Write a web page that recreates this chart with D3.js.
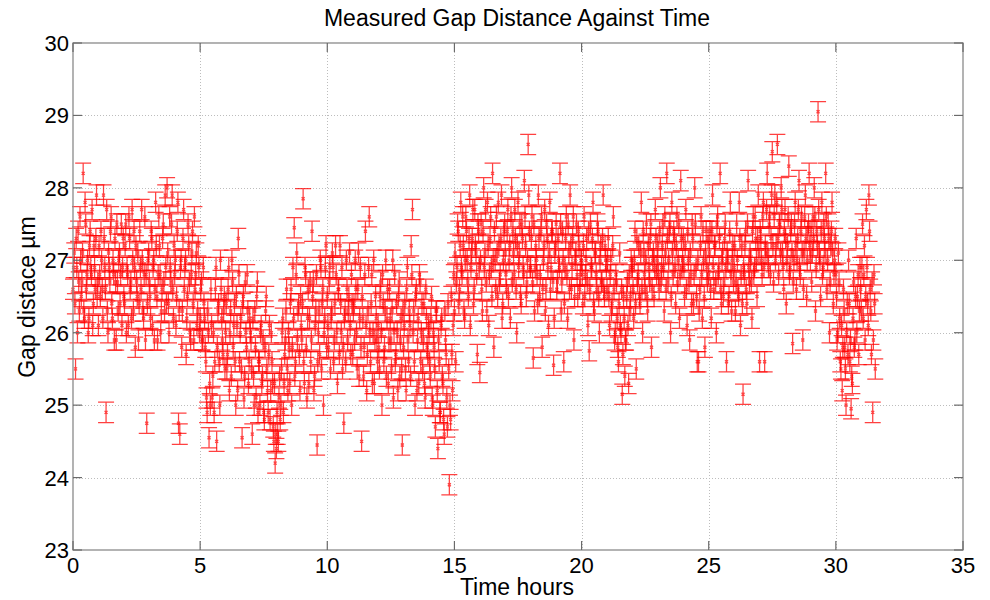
<!DOCTYPE html>
<html><head><meta charset="utf-8">
<script src="https://cdn.jsdelivr.net/npm/d3@7/dist/d3.min.js"></script>
<style>body{margin:0;background:#fff}svg{display:block}</style>
</head><body><svg id="chart" width="990" height="600"></svg>
<script>
// ---------------- data ----------------
const chartTitle = "Measured Gap Distance Against Time";
const xLabel = "Time hours";
const yLabel = "Gap distace µm";
const xTicks = [0, 5, 10, 15, 20, 25, 30, 35];
const yTicks = [23, 24, 25, 26, 27, 28, 29, 30];
const xDomain = [0, 35];
const yDomain = [23, 30];
const sampleStepHours = 0.05;   // readings inside each hour row are 0.05 h apart
const offsetB = 0.025;          // second set of readings sits half a step later
const gapError = 0.14;          // +/- error (µm) on every reading
// gap readings (µm), one row per hour starting at hour 0 (t = h + i*0.05)
const gapByHourA = [
 [26.6,27.1,25.5,26.9,27.4,26.3,27.0,26.7,28.2,26.2,27.5,26.8,26.0,27.2,26.9,27.7,26.4,26.9,27.3,26.5],
 [26.1,26.8,27.4,26.6,27.9,26.9,24.9,26.3,27.1,26.7,27.6,26.2,26.8,27.3,25.9,26.7,27.0,26.4,27.5,26.9],
 [26.5,27.2,26.0,26.8,27.6,26.6,26.2,27.0,27.4,25.8,26.7,27.1,26.4,26.9,27.7,26.3,26.8,25.9,24.75,27.0],
 [26.7,26.2,27.3,26.9,25.9,27.8,26.5,26.8,27.2,26.0,26.6,27.5,26.3,26.9,28.0,26.4,27.6,26.7,27.9,26.2],
 [26.8,26.1,27.4,24.75,24.6,27.0,26.3,27.7,26.9,25.7,26.5,27.2,26.0,26.8,27.4,25.9,26.6,27.1,26.3,26.9],
 [26.2,26.7,25.9,26.4,25.8,25.1,26.3,24.55,25.0,26.1,25.4,24.9,26.6,24.5,26.3,25.6,27.0,26.2,25.7,26.5],
 [26.0,25.5,26.6,25.2,26.3,27.0,25.8,26.4,25.0,26.1,27.3,25.6,26.2,24.55,26.5,25.4,26.0,26.8,25.3,26.2],
 [25.9,24.6,25.4,26.3,25.1,26.7,25.6,25.0,26.1,25.4,24.9,25.8,26.5,25.2,25.7,24.8,26.0,25.3,24.5,24.2],
 [24.4,24.6,25.1,24.8,25.5,26.2,25.3,25.9,26.6,25.2,25.8,26.4,25.0,26.9,27.45,25.6,27.1,26.3,25.7,26.5],
 [25.9,27.85,25.3,26.8,25.1,26.6,26.2,25.6,27.4,26.7,25.4,26.3,24.45,26.0,25.7,26.9,26.4,25.0,26.2,27.2],
 [26.5,25.8,26.9,26.2,27.1,25.6,26.4,26.8,25.3,26.6,27.2,26.0,25.5,24.75,26.3,27.0,25.9,26.5,26.1,26.8],
 [25.7,26.4,27.0,26.0,26.6,25.4,26.9,24.5,26.2,25.8,27.4,25.2,26.3,27.6,25.6,26.8,26.0,25.3,26.5,25.9],
 [26.1,25.5,26.7,25.0,26.4,25.8,27.0,26.2,25.3,26.6,25.9,26.3,25.1,26.8,25.7,26.0,26.5,25.4,26.2,24.45],
 [25.8,26.4,25.2,26.9,25.6,26.1,27.2,27.7,26.3,25.0,26.6,25.9,25.3,26.7,26.0,25.5,26.4,25.1,26.2,25.7],
 [26.0,25.4,26.5,25.0,25.8,24.7,26.3,24.4,25.6,24.9,26.2,25.3,24.6,25.9,25.1,26.4,23.9,24.8,25.7,26.1],
 [26.3,25.6,26.9,27.4,26.6,27.8,26.8,27.2,26.2,27.6,27.0,26.5,27.9,26.9,27.3,26.4,27.7,27.1,25.7,27.4],
 [25.45,27.5,26.3,28.0,27.1,26.7,27.8,26.1,27.3,26.9,28.2,25.8,27.0,27.6,26.5,27.2,26.8,27.9,26.4,27.4],
 [27.1,26.6,27.7,27.0,26.2,28.0,27.4,26.8,27.3,26.0,27.8,27.1,26.5,27.5,26.9,28.1,27.2,26.7,28.6,27.4],
 [26.9,27.6,25.65,26.3,27.2,26.8,27.9,26.5,27.4,25.8,27.0,27.7,26.6,27.3,26.1,27.8,26.9,27.4,25.55,27.1],
 [27.5,26.7,27.0,28.2,26.3,27.4,25.6,26.9,27.6,26.2,27.1,27.9,26.6,27.3,25.9,27.0,27.5,26.5,27.2,26.8],
 [27.0,26.4,27.6,26.8,27.3,26.1,25.75,27.5,26.9,27.8,26.3,27.1,26.6,27.4,26.0,27.2,26.7,27.9,26.5,27.0],
 [26.6,27.3,26.1,27.0,26.4,27.6,25.9,26.8,26.2,25.6,27.1,26.0,25.15,26.5,25.4,25.9,26.7,25.3,26.3,27.0],
 [26.9,26.2,27.4,25.5,26.7,27.2,26.4,27.8,26.0,27.1,26.6,27.5,26.3,26.9,27.3,25.8,27.0,26.5,27.7,26.8],
 [27.2,26.6,28.0,26.9,27.5,26.3,27.1,28.2,26.7,27.4,26.0,27.8,26.8,27.3,26.4,27.6,27.0,26.2,28.1,26.9],
 [27.3,26.5,27.7,26.1,27.0,25.9,26.8,27.5,26.4,28.0,26.9,25.6,25.6,26.6,27.6,26.2,27.0,25.8,27.4,26.7],
 [26.8,27.4,26.2,27.9,26.6,27.2,26.0,27.6,26.9,28.2,26.4,27.1,26.7,27.5,25.6,27.0,26.5,27.8,26.3,27.2],
 [26.9,26.3,27.5,26.6,27.8,26.1,27.2,25.15,26.8,27.4,26.4,28.1,26.7,27.0,26.2,27.6,26.9,27.3,26.5,27.9],
 [25.6,27.3,26.8,27.8,25.6,27.1,28.2,26.9,27.6,27.3,28.5,26.7,27.9,27.2,28.6,26.8,27.5,28.0,27.1,26.6],
 [27.7,26.4,27.2,28.3,26.9,27.5,25.85,27.0,27.8,26.6,27.3,28.1,26.8,27.6,25.9,27.1,27.9,26.5,27.4,28.2],
 [27.0,26.7,27.6,28.0,26.3,27.4,29.05,27.1,26.5,27.8,26.9,27.3,28.2,26.6,27.5,26.0,27.2,27.8,26.4,27.0],
 [26.8,25.9,27.1,26.2,25.5,25.2,26.6,25.8,25.0,26.4,27.0,25.6,24.95,25.3,26.7,25.9,27.3,26.5,25.7,26.9],
 [26.3,27.5,26.8,25.9,27.7,26.4,27.9,26.6,25.7,24.9,26.8,25.5]
];
// second set of gap readings (µm), t = h + 0.025 + i*0.05
const gapByHourB = [
 [26.9,26.4,27.3,26.0,26.7,27.6,26.5,27.1,26.3,27.8,26.6,27.0,26.2,27.4,26.8,26.1,27.2,26.6,27.9,26.7],
 [27.2,26.5,27.0,26.2,27.3,26.6,27.7,26.0,26.9,27.4,26.4,27.0,25.9,26.7,27.5,26.3,27.1,26.8,26.1,27.3],
 [26.4,27.5,26.9,26.1,27.3,26.7,27.7,26.3,26.9,27.2,26.5,25.9,27.4,26.6,27.0,26.2,27.6,26.8,26.4,27.1],
 [26.5,27.4,26.1,27.0,26.6,27.2,25.9,27.6,26.8,26.3,27.3,26.7,27.9,26.4,27.1,26.0,26.9,27.5,26.6,27.2],
 [27.0,26.5,27.8,26.3,26.9,25.8,27.3,26.6,27.0,26.2,27.5,26.7,25.9,27.1,26.4,27.6,26.8,26.1,27.2,26.0],
 [26.6,25.9,26.9,26.2,25.6,24.9,26.0,25.3,26.6,25.1,26.0,25.6,26.9,25.8,26.4,25.0,26.6,25.9,26.3,25.5],
 [26.4,25.7,26.9,26.0,25.4,26.7,26.1,25.6,26.5,25.2,26.8,26.0,25.5,26.4,25.1,26.7,25.8,26.3,25.6,26.0],
 [25.5,26.2,25.0,25.8,26.5,24.9,25.6,26.0,25.3,25.9,24.8,26.3,25.5,24.9,26.1,25.2,25.6,24.7,25.3,24.6],
 [24.9,24.5,25.4,25.0,26.0,24.9,25.7,26.3,25.5,26.0,25.3,26.6,25.8,26.2,25.4,26.8,25.9,26.4,25.2,26.1],
 [26.4,25.6,26.9,25.8,26.2,25.3,26.7,25.9,26.5,25.2,26.1,26.8,25.6,26.3,27.0,25.5,26.6,26.0,26.9,25.8],
 [26.1,26.7,25.5,26.3,26.9,25.9,27.2,26.0,26.6,25.7,26.4,26.9,25.8,26.2,25.6,26.6,26.3,27.1,25.7,26.4],
 [26.3,25.9,26.6,25.5,27.1,26.2,25.8,26.5,25.4,26.8,26.1,25.7,26.9,26.0,26.4,25.3,27.0,25.9,26.2,25.6],
 [25.8,26.5,26.0,26.8,25.6,26.3,25.4,26.6,25.9,26.2,25.5,27.0,26.0,25.6,26.4,25.2,26.7,25.9,25.5,26.3],
 [26.1,25.5,26.6,25.9,26.3,25.4,26.8,26.0,25.6,26.5,25.2,26.2,26.8,25.6,26.4,25.9,25.3,26.6,25.8,26.1],
 [25.6,26.2,25.1,26.0,25.5,26.3,25.2,25.9,24.9,26.1,25.4,24.8,26.3,25.7,24.7,25.5,25.0,26.5,25.2,26.8],
 [27.1,26.7,27.5,26.4,27.2,26.9,27.6,26.3,27.0,27.4,26.7,27.3,26.1,27.1,27.7,26.6,27.2,26.8,27.5,26.9],
 [27.0,26.6,27.4,26.9,27.7,26.3,27.2,26.8,27.6,26.5,27.0,27.4,26.6,27.1,27.8,26.7,27.3,26.2,27.0,27.5],
 [26.8,27.4,26.5,27.2,27.6,26.7,27.1,27.7,26.6,27.2,26.9,27.5,26.4,27.3,26.8,27.6,26.5,27.0,27.9,26.9],
 [27.3,26.7,27.5,26.9,27.0,26.4,27.3,26.8,27.6,26.6,27.2,26.3,27.5,26.9,27.1,26.6,27.4,26.7,26.2,27.2],
 [26.6,27.3,26.9,27.5,26.7,27.0,26.4,27.3,26.8,27.5,26.6,27.2,26.9,27.6,26.5,27.1,26.8,27.4,26.6,27.0],
 [26.8,27.2,26.5,27.0,26.7,27.4,26.6,26.9,27.3,26.4,27.1,26.8,27.5,26.5,27.0,26.7,27.3,26.6,27.2,26.9],
 [27.0,26.5,26.8,26.3,27.2,26.6,26.0,26.7,25.8,26.4,26.1,26.6,25.7,26.2,25.9,26.5,26.1,26.8,26.5,26.9],
 [26.6,27.0,26.4,27.3,26.8,26.5,27.1,26.6,27.4,26.8,27.0,26.5,27.2,26.7,27.5,26.6,27.1,26.9,27.3,27.0],
 [26.8,27.4,26.7,27.2,26.9,27.6,26.6,27.3,27.0,27.5,26.5,27.1,27.4,26.9,27.2,26.7,27.5,26.8,27.3,27.0],
 [26.9,27.2,26.6,27.4,26.7,27.1,26.4,27.3,26.8,27.5,26.5,27.0,26.3,27.2,26.8,27.4,26.5,27.1,26.9,27.3],
 [27.1,26.6,27.4,26.9,27.2,26.7,27.5,26.8,27.3,26.6,27.0,26.5,27.3,26.9,27.1,26.4,27.4,26.8,27.0,26.7],
 [27.2,26.7,27.0,26.5,27.3,26.8,26.4,26.9,27.2,26.6,27.5,26.9,27.1,26.7,27.4,26.8,27.6,27.0,27.3,27.1],
 [27.4,27.0,27.6,26.9,27.2,27.7,27.1,27.5,26.8,27.9,27.2,27.6,27.0,27.8,27.3,27.5,27.1,27.7,26.9,27.4],
 [27.3,27.0,27.6,26.8,27.4,27.1,26.7,27.5,27.2,27.0,27.7,26.9,27.4,27.1,26.6,27.6,27.3,27.0,27.5,27.2],
 [27.4,27.1,27.3,27.6,26.9,27.2,27.7,27.0,27.4,26.8,27.5,27.1,27.6,27.0,27.3,26.7,27.4,27.1,26.8,27.3],
 [26.5,26.0,26.7,25.6,26.1,25.8,26.3,25.5,26.0,25.7,26.4,25.9,25.4,26.2,25.8,26.5,26.0,26.8,26.3,26.6],
 [26.9,26.2,27.2,26.5,26.9,26.1,27.4,26.3,26.7,25.9,26.4]
];

// ---------------- chart ----------------
const FONT = "'Liberation Sans', Arial, Helvetica, sans-serif";
const svg = d3.select("#chart");
const mLeft = 73, mRight = 963, mTop = 43, mBottom = 550;
const x = d3.scaleLinear().domain(xDomain).range([mLeft, mRight]);
const y = d3.scaleLinear().domain(yDomain).range([mBottom, mTop]);
const px = v => Math.round(v) + 0.5;

const points = [];
gapByHourA.forEach((row, h) => row.forEach((v, i) => points.push({t: h + i * sampleStepHours, v: v, e: gapError})));
gapByHourB.forEach((row, h) => row.forEach((v, i) => points.push({t: h + offsetB + i * sampleStepHours, v: v, e: gapError})));
points.sort((a, b) => a.t - b.t);

// grid
const grid = svg.append("g").attr("stroke", "#bdbdbd").attr("stroke-width", 1).attr("stroke-dasharray", "1,2");
grid.selectAll("line.gx").data(xTicks.slice(1, -1)).join("line")
  .attr("x1", d => px(x(d))).attr("x2", d => px(x(d)))
  .attr("y1", mTop).attr("y2", mBottom);
grid.selectAll("line.gy").data(yTicks.slice(1, -1)).join("line")
  .attr("y1", d => px(y(d))).attr("y2", d => px(y(d)))
  .attr("x1", mLeft).attr("x2", mRight);

// error bars
const capW = 8;
const eb = svg.append("g").attr("fill", "none").attr("stroke", "#ff0000").attr("stroke-width", 1.25);
eb.selectAll("path").data(points).join("path")
  .attr("stroke-opacity", 0.75)
  .attr("d", d => {
    const cx = x(d.t), y1 = y(d.v + d.e), y0 = y(d.v - d.e), cy = y(d.v);
    return `M${cx - capW},${y1}H${cx + capW}M${cx},${y1}V${y0}M${cx - capW},${y0}H${cx + capW}` +
           `M${cx - 1.5},${cy - 1.5}l3,3M${cx - 1.5},${cy + 1.5}l3,-3`;
  });

// axes box and ticks
const ax = svg.append("g");
ax.append("rect").attr("x", mLeft).attr("y", mTop).attr("width", mRight - mLeft).attr("height", mBottom - mTop)
  .attr("fill", "none").attr("stroke", "#8a8a8a").attr("stroke-width", 1.3);
const tl = 9;
const tk = ax.append("g").attr("stroke", "#6a6a6a").attr("stroke-width", 1.2);
xTicks.forEach(d => {
  tk.append("line").attr("x1", x(d)).attr("x2", x(d)).attr("y1", mBottom).attr("y2", mBottom - tl);
  tk.append("line").attr("x1", x(d)).attr("x2", x(d)).attr("y1", mTop).attr("y2", mTop + tl);
});
yTicks.forEach(d => {
  tk.append("line").attr("y1", y(d)).attr("y2", y(d)).attr("x1", mLeft).attr("x2", mLeft + tl);
  tk.append("line").attr("y1", y(d)).attr("y2", y(d)).attr("x1", mRight).attr("x2", mRight - tl);
});

// tick labels
svg.append("g").selectAll("text").data(xTicks).join("text")
  .attr("x", d => x(d)).attr("y", 573).attr("text-anchor", "middle")
  .attr("font-family", FONT).attr("font-size", 22).attr("fill", "#000").text(d => d);
svg.append("g").selectAll("text").data(yTicks).join("text")
  .attr("x", 69).attr("y", d => y(d) + 8).attr("text-anchor", "end")
  .attr("font-family", FONT).attr("font-size", 22).attr("fill", "#000").text(d => d);

// titles
svg.append("text").attr("x", 517).attr("y", 26).attr("text-anchor", "middle")
  .attr("font-family", FONT).attr("font-size", 23).attr("fill", "#000").text(chartTitle);
svg.append("text").attr("x", 517).attr("y", 595).attr("text-anchor", "middle")
  .attr("font-family", FONT).attr("font-size", 23).attr("fill", "#000").text(xLabel);
svg.append("text").attr("transform", "translate(35,297) rotate(-90)").attr("text-anchor", "middle")
  .attr("font-family", FONT).attr("font-size", 23).attr("fill", "#000").text(yLabel);
</script>
</body></html>
